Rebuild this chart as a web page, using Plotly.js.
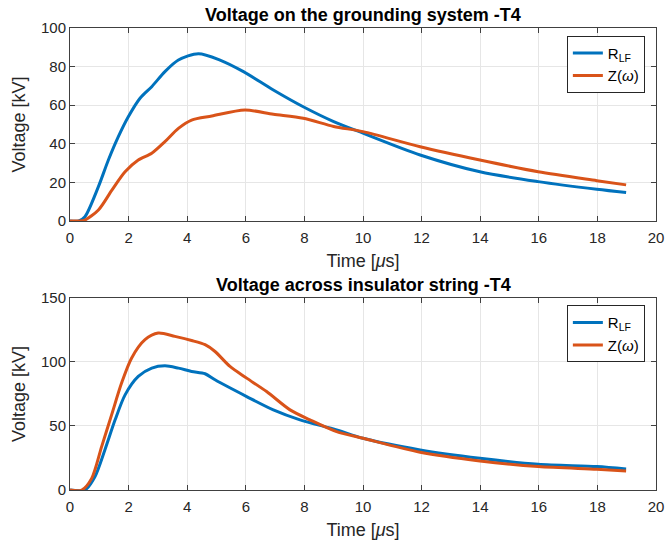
<!DOCTYPE html>
<html><head><meta charset="utf-8">
<script src="https://cdn.plot.ly/plotly-3.0.1.min.js"></script>
<style>html,body{margin:0;padding:0;background:#fff}</style>
</head><body>
<div id="chart" style="width:668px;height:545px"></div>
<script>
// Top panel: Voltage on the grounding system -T4
const topRlfX = [0,0.3,0.51,0.97,1.31,1.65,1.99,2.39,2.79,3.24,3.7,4.38,5.12,5.92,6.94,7.96,9.0,10.0,11.95,13.99,15.98,17.98,18.98];
const topRlfY = [0,0,2.2,17.8,31.6,43.7,54,63.6,69.6,77.4,83.4,86.7,83.4,77.4,67.9,59.2,51.5,45.5,34.2,25.5,20.4,16.4,14.7];
const topZX = [0,0.3,0.51,0.97,1.43,1.88,2.33,2.79,3.24,3.7,4.15,4.84,5.97,6.94,7.96,9.0,10.0,11.95,13.99,15.98,17.98,18.98];
const topZY = [0,0,0.5,5.7,16,25.5,31.6,35.1,41.1,48.0,52.3,54.4,57.5,55.3,53.2,49.0,46.3,38.5,31.6,25.5,20.9,18.7];
// Bottom panel: Voltage across insulator string -T4
const botRlfX = [0,0.51,0.85,1.19,1.54,1.88,2.33,2.79,3.24,3.7,4.15,4.61,4.95,6.03,6.94,7.85,9.1,10.0,11.95,13.99,15.98,17.98,18.98];
const botRlfY = [0,0,10.4,31.3,54.8,74.3,88.7,95.2,97,95.2,92.6,90.8,86.1,73,62.6,54.8,47,40.4,31.3,24.8,20.1,18.3,16.4];
const botZX = [0,0.4,0.74,1.08,1.42,1.76,2.1,2.56,3.01,3.58,4.15,4.61,4.95,5.46,6.03,6.71,7.51,8.19,9.1,10.0,11.95,13.99,15.98,17.98,18.98];
const botZY = [0,0,9.1,33.9,58.7,83.5,103,117.4,122.6,120,116.8,113.5,108.2,96.5,87.4,76.9,62.6,54.8,45.6,40.4,29.5,22.7,18.3,16.2,14.9];

const names = ['R<sub>LF</sub>', 'Z(<i>ω</i>)'];
const titles = ['Voltage on the grounding system -T4', 'Voltage across insulator string -T4'];
const blue = '#0072BD', orange = '#D95319';

const ln = c => ({color:c, width:3, shape:'spline', smoothing:0.8});
const traces = [
  {x: topRlfX, y: topRlfY, name: names[0], xaxis:'x', yaxis:'y', legend:'legend', line:ln(blue), mode:'lines'},
  {x: topZX, y: topZY, name: names[1], xaxis:'x', yaxis:'y', legend:'legend', line:ln(orange), mode:'lines'},
  {x: botRlfX, y: botRlfY, name: names[0], xaxis:'x2', yaxis:'y2', legend:'legend2', line:ln(blue), mode:'lines'},
  {x: botZX, y: botZY, name: names[1], xaxis:'x2', yaxis:'y2', legend:'legend2', line:ln(orange), mode:'lines'}
];

const font = {family:'Liberation Sans, Arial, sans-serif', size:15, color:'#262626'};
const axBase = {showline:true, mirror:'ticks', linecolor:'#404040', linewidth:1, ticks:'inside', ticklen:5, tickcolor:'#404040',
  showgrid:true, gridcolor:'#e6e6e6', zeroline:false, tickfont:{size:15,color:'#262626'}};
const xTitle = {text:'Time [<i>μ</i>s]', font:{size:18,color:'#262626'}, standoff:9};
const yTitle = {text:'Voltage [kV]', font:{size:18,color:'#262626'}, standoff:10};

const legendBase = {xanchor:'right', yanchor:'top', bgcolor:'#fff', bordercolor:'#262626', borderwidth:1,
  font:{size:15,color:'#000'}, tracegroupgap:0};

const layout = {
  width:668, height:545,
  margin:{l:70, r:12, t:28, b:55},
  paper_bgcolor:'#fff', plot_bgcolor:'#fff',
  font: font,
  xaxis: Object.assign({}, axBase, {domain:[0,1], range:[0,20], dtick:2, anchor:'y', title:xTitle, ticklabelstandoff:3}),
  yaxis: Object.assign({}, axBase, {domain:[0.5823,1], range:[0,100], dtick:20, anchor:'x', title:yTitle}),
  xaxis2: Object.assign({}, axBase, {domain:[0,1], range:[0,20], dtick:2, anchor:'y2', title:xTitle, ticklabelstandoff:3}),
  yaxis2: Object.assign({}, axBase, {domain:[0,0.4156], range:[0,150], dtick:50, anchor:'x2', title:yTitle}),
  legend: Object.assign({}, legendBase, {x:0.981, y:0.983}),
  legend2: Object.assign({}, legendBase, {x:0.981, y:0.400}),
  annotations: [
    {text:'<b>'+titles[0]+'</b>', xref:'paper', yref:'paper', x:0.5, y:1, yshift:1, xanchor:'center', yanchor:'bottom', showarrow:false, font:{size:18,color:'#000'}},
    {text:'<b>'+titles[1]+'</b>', xref:'paper', yref:'paper', x:0.5, y:0.4156, yshift:1, xanchor:'center', yanchor:'bottom', showarrow:false, font:{size:18,color:'#000'}}
  ],
  showlegend:true
};

Plotly.newPlot('chart', traces, layout, {displayModeBar:false, staticPlot:true});
</script>
</body></html>
